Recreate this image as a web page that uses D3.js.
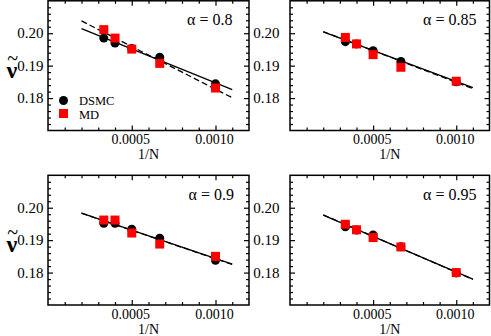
<!DOCTYPE html>
<html><head><meta charset="utf-8">
<script src="https://cdn.jsdelivr.net/npm/d3@7"></script>
<style>html,body{margin:0;padding:0;background:#fff;}svg{display:block;} text{font-family:"Liberation Serif", Tinos, "Times New Roman", Times, serif;}</style>
</head><body>
<svg id="c" width="491" height="336"></svg>
<script>
// ---- data ----
const invN = [0.000333, 0.0004, 0.0005, 0.000667, 0.001];
const alphaLabels = ["0.8", "0.85", "0.9", "0.95"];
const dsmc1 = [0.1985, 0.1970, 0.1953, 0.1926, 0.1844];
const md1   = [0.2011, 0.1985, 0.1951, 0.1907, 0.1831];
const dsmc2 = [0.1974, 0.1967, 0.1946, 0.1913, 0.1850];
const md2   = [0.1987, 0.1967, 0.1934, 0.1895, 0.1852];
const dsmc3 = [0.1952, 0.1952, 0.1934, 0.1906, 0.1838];
const md3   = [0.1962, 0.1962, 0.1922, 0.1888, 0.1850];
const dsmc4 = [0.1941, 0.1931, 0.1916, 0.1880, 0.1799];
const md4   = [0.1949, 0.1932, 0.1908, 0.1879, 0.1800];
const fitX = [0.0002, 0.0011];
const dsmcFit = [[0.2014, 0.1826], [0.2004, 0.1832], [0.1983, 0.1826], [0.1977, 0.1780]];
const mdFit   = [[0.2038, 0.1801], [0.2005, 0.1829], [0.1983, 0.1825], [0.1978, 0.1779]];
const xMajorTicks = [0.0005, 0.0010];
const xTickLabels = ["0.0005", "0.0010"];
const yMajorTicks = [0.18, 0.19, 0.20];
const yTickLabels = ["0.18", "0.19", "0.20"];
const xMinorTicks = [0.0001,0.0002,0.0003,0.0004,0.0006,0.0007,0.0008,0.0009,0.0011];
const yMinorTicks = [0.172,0.174,0.176,0.178,0.182,0.184,0.186,0.188,0.192,0.194,0.196,0.198,0.202,0.204,0.206,0.208];
const legendLabels = ["DSMC", "MD"];

const dsmcAll = [dsmc1, dsmc2, dsmc3, dsmc4];
const mdAll = [md1, md2, md3, md4];

// ---- layout ----
const svg = d3.select("#c");
const panels = [
  {x0: 48,  x1: 249,   y0: 0.8,   y1: 130.5, labRight: 43.5, alphaX: 187},
  {x0: 290, x1: 489.5, y0: 0.8,   y1: 130.5, labRight: 279.5, alphaX: 423},
  {x0: 48,  x1: 249,   y0: 175.3, y1: 305,   labRight: 43.5, alphaX: 188.5},
  {x0: 290, x1: 489.5, y0: 175.3, y1: 305,   labRight: 279.5, alphaX: 423}
];

panels.forEach((p, i) => {
  const x = d3.scaleLinear().domain([0, 0.0012]).range([p.x0, p.x1]);
  const y = d3.scaleLinear().domain([0.17, 0.21]).range([p.y1, p.y0]);
  const g = svg.append("g");

  const maj = 5, mnr = 3;
  const mk = (axisFn, scale, ticks, size, tr) => {
    const a = g.append("g").attr("transform", tr)
      .call(axisFn(scale).tickValues(ticks).tickSize(size).tickFormat(""));
    a.select(".domain").remove();
    a.selectAll("line").attr("stroke", "#000").attr("stroke-width", 1.2);
  };
  mk(d3.axisBottom, x, xMajorTicks, -maj, `translate(0,${p.y1})`);
  mk(d3.axisBottom, x, xMinorTicks, -mnr, `translate(0,${p.y1})`);
  mk(d3.axisTop, x, xMajorTicks, -maj, `translate(0,${p.y0})`);
  mk(d3.axisTop, x, xMinorTicks, -mnr, `translate(0,${p.y0})`);
  mk(d3.axisLeft, y, yMajorTicks, -maj, `translate(${p.x0},0)`);
  mk(d3.axisLeft, y, yMinorTicks, -mnr, `translate(${p.x0},0)`);
  mk(d3.axisRight, y, yMajorTicks, -maj, `translate(${p.x1},0)`);
  mk(d3.axisRight, y, yMinorTicks, -mnr, `translate(${p.x1},0)`);

  g.append("rect").attr("x", p.x0).attr("y", p.y0)
    .attr("width", p.x1 - p.x0).attr("height", p.y1 - p.y0)
    .attr("fill", "none").attr("stroke", "#000").attr("stroke-width", 1.5);

  g.selectAll(".xl").data(xMajorTicks).enter().append("text")
    .attr("x", d => x(d) - 1).attr("y", p.y1 + 13.5)
    .attr("text-anchor", "middle").attr("font-size", 14)
    .text((d, j) => xTickLabels[j]);
  g.selectAll(".yl").data(yMajorTicks).enter().append("text")
    .attr("x", p.labRight).attr("y", d => y(d)).attr("dy", "0.35em")
    .attr("text-anchor", "end").attr("font-size", 15)
    .text((d, j) => yTickLabels[j]);

  g.append("text").attr("x", (p.x0 + p.x1) / 2).attr("y", p.y1 + 28.5)
    .attr("text-anchor", "middle").attr("font-size", 14)
    .text("1/N");

  if (i % 2 === 0) {
    const t = g.append("text");
    t.append("tspan").attr("x", 6.5).attr("y", p.y0 + 77).attr("font-size", 24)
      .attr("font-weight", "bold").text("ν");
    t.append("tspan").attr("x", 7.2).attr("y", p.y0 + 64).attr("font-size", 20).text("~");
  }

  g.append("text").attr("x", p.alphaX).attr("y", p.y0 + 24.5)
    .attr("font-size", 16)
    .text("α = " + alphaLabels[i]);

  const line = d3.line().x(d => x(d[0])).y(d => y(d[1]));
  g.append("path").datum(fitX.map((v, k) => [v, dsmcFit[i][k]]))
    .attr("d", line).attr("fill", "none").attr("stroke", "#000").attr("stroke-width", 1.3);
  g.append("path").datum(fitX.map((v, k) => [v, mdFit[i][k]]))
    .attr("d", line).attr("fill", "none").attr("stroke", "#000").attr("stroke-width", 1.3)
    .attr("stroke-dasharray", "6,3");

  g.selectAll(".c").data(invN.map((v, k) => [v, dsmcAll[i][k]])).enter().append("circle")
    .attr("cx", d => x(d[0])).attr("cy", d => y(d[1])).attr("r", 4.5).attr("fill", "#000");
  g.selectAll(".s").data(invN.map((v, k) => [v, mdAll[i][k]])).enter().append("rect")
    .attr("x", d => x(d[0]) - 4.5).attr("y", d => y(d[1]) - 4.5)
    .attr("width", 9).attr("height", 9).attr("fill", "#ff0000");

  if (i === 0) {
    g.append("circle").attr("cx", 63.5).attr("cy", 100.5).attr("r", 4.5).attr("fill", "#000");
    g.append("rect").attr("x", 59).attr("y", 109).attr("width", 9).attr("height", 9).attr("fill", "#ff0000");
    g.append("text").attr("x", 79).attr("y", 105).attr("font-size", 12.5).text(legendLabels[0]);
    g.append("text").attr("x", 79).attr("y", 118.5).attr("font-size", 12.5).text(legendLabels[1]);
  }
});
</script>
</body></html>
